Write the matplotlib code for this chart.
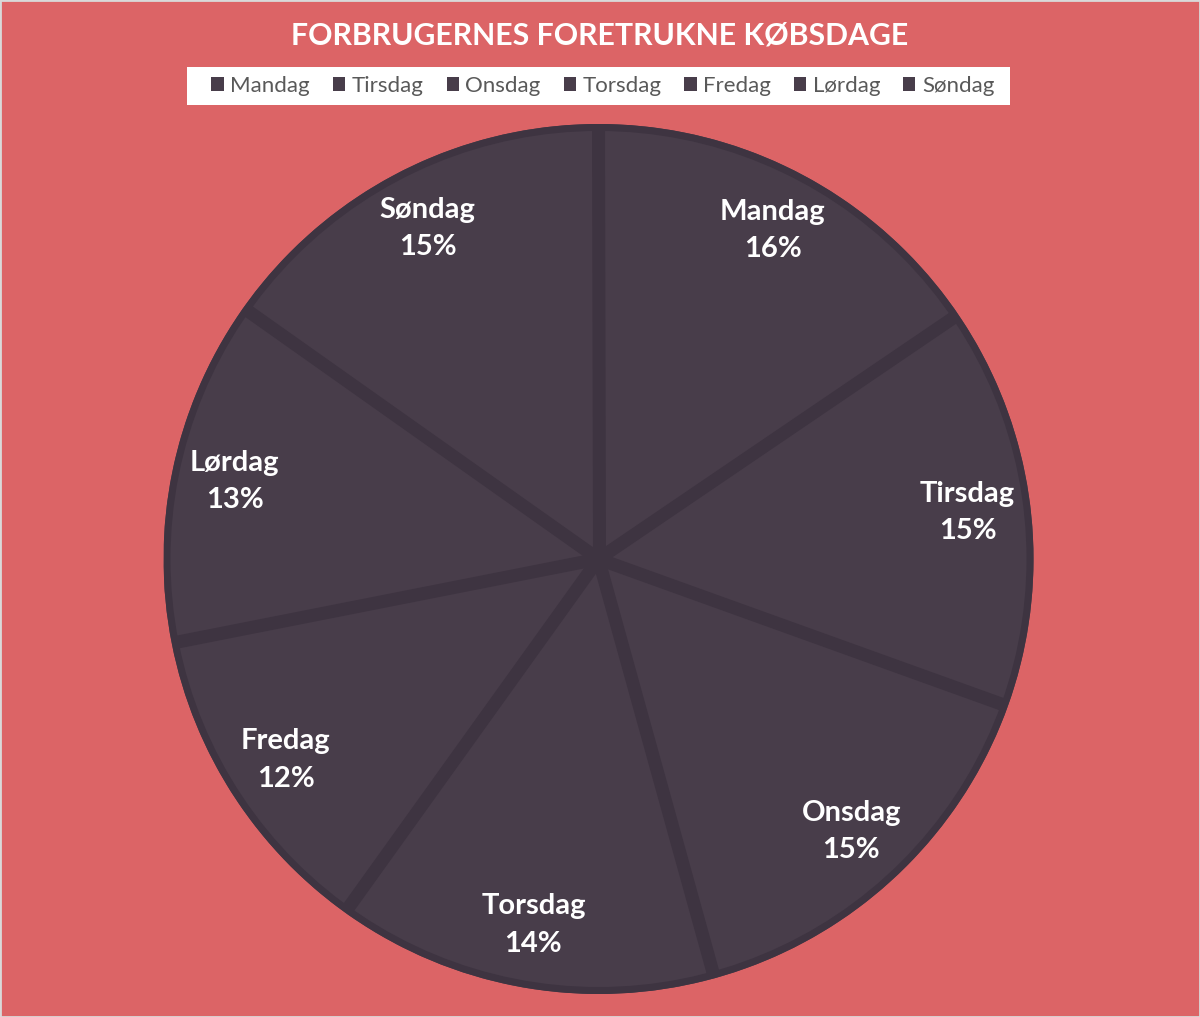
import matplotlib
matplotlib.use("Agg")
import math
import matplotlib.pyplot as plt
from matplotlib.patches import Patch, Circle, Rectangle

# ---- data ----
days = ["Mandag", "Tirsdag", "Onsdag", "Torsdag", "Fredag", "Lørdag", "Søndag"]
shares = [15.5, 15.0, 15.2, 14.2, 12.0, 12.9, 15.2]
title = "FORBRUGERNES FORETRUKNE KØBSDAGE"

# ---- style ----
bg = "#DC6466"
fill = "#483D4A"
sep = "#3E3441"
font = "Lato"

W, H = 1200, 1017
fig = plt.figure(figsize=(W / 100, H / 100), dpi=100, facecolor=bg)

R_px = 435
cx, cy = 598.5, 559
ax = fig.add_axes([(cx - R_px) / W, (H - cy - R_px) / H, 2 * R_px / W, 2 * R_px / H])

wedges, _ = ax.pie(shares, startangle=90, counterclock=False, radius=1,
                   colors=[fill] * len(shares),
                   wedgeprops=dict(edgecolor="none", linewidth=0))
ax.set_xlim(-1, 1)
ax.set_ylim(-1, 1)
ax.axis("off")

px = 1.0 / R_px  # one pixel in data units
# separators between slices
for w in wedges:
    th = math.radians(w.theta1)
    ax.plot([0, (1 - 3 * px) * math.cos(th)], [0, (1 - 3 * px) * math.sin(th)],
            color=sep, linewidth=13 * 0.72, solid_capstyle="butt", zorder=3)
# outer ring
ax.add_patch(Circle((0, 0), 1 - 3.5 * px, fill=False, edgecolor=sep,
                    linewidth=7 * 0.72, zorder=3))

total = sum(shares)
for w, d, v in zip(wedges, days, shares):
    th = math.radians((w.theta1 + w.theta2) / 2)
    ax.text(0.855 * math.cos(th), 0.855 * math.sin(th), f"{d}\n{round(v / total * 100)}%",
            ha="center", va="center", color="white", fontsize=21,
            fontweight="bold", family=font, linespacing=1.55, zorder=5)

fig.text(0.5, 1 - 35 / H, title, ha="center", va="center", color="white",
         fontsize=21.8, fontweight="bold", family=font)

# legend background box
fig.patches.append(Rectangle((187 / W, 1 - 105 / H), (1010 - 187) / W, 38 / H,
                             transform=fig.transFigure, facecolor="white",
                             edgecolor="none", zorder=1))
handles = [Patch(facecolor=fill, edgecolor="none") for _ in days]
leg = fig.legend(handles, days, loc="center", bbox_to_anchor=(603 / W, 1 - 86 / H),
                 ncol=len(days), frameon=False, handlelength=0.55, handleheight=0.55,
                 handletextpad=0.3, columnspacing=1.03, borderpad=0.2,
                 prop=dict(family=font, size=16))
leg.set_zorder(2)
for t in leg.get_texts():
    t.set_color("#595959")

fig.patches.append(Rectangle((0, 0), 1, 1, transform=fig.transFigure, fill=False,
                             edgecolor="#D9D9D9", linewidth=2))

fig.savefig("out.png", dpi=100, facecolor=bg)
